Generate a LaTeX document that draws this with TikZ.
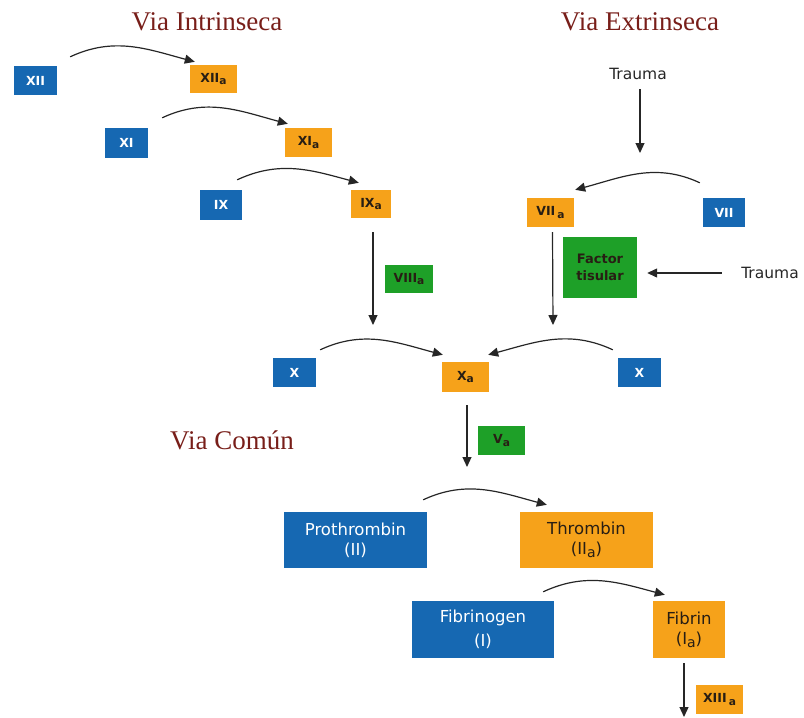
\documentclass[tikz,border=0pt]{standalone}
\usepackage{fontspec}
\setmainfont{DejaVu Sans}
\newfontfamily\titlefont{Liberation Serif}
\usetikzlibrary{arrows.meta}
\definecolor{fblue}{RGB}{22,104,178}
\definecolor{forange}{RGB}{246,162,26}
\definecolor{fgreen}{RGB}{30,160,40}
\definecolor{ftitle}{RGB}{120,30,25}
\definecolor{ftext}{RGB}{40,30,20}
\newcommand{\lowa}{\raisebox{-0.35ex}{\scalebox{0.85}{a}}}
\begin{document}
\begin{tikzpicture}[x=1pt,y=-1pt,
  box/.style={rectangle, inner sep=0pt, align=center, font=\fontsize{12.5}{15}\selectfont\bfseries},
  inact/.style={box, fill=fblue, text=white},
  act/.style={box, fill=forange, text=ftext},
  cof/.style={box, fill=fgreen, text=ftext},
  bigbox/.style={font=\fontsize{16.5}{20}\selectfont},
  titletext/.style={font=\titlefont\fontsize{27}{30}\selectfont, text=ftitle},
  plain/.style={font=\fontsize{15.5}{18}\selectfont, text=black!85},
  arr/.style={-{Triangle[length=10pt,width=9pt]}, line width=1.2pt, black!85},
]
\useasboundingbox (0,0) rectangle (804,718);

% titles
\node[titletext] (tint) at (207,22) {Via Intrinseca};
\node[titletext] (text) at (640,22) {Via Extrinseca};
\node[titletext] (tcom) at (232,440) {Via Común};

% intrinsic pathway
\node[inact, minimum width=43, minimum height=29] (xii) at (35.5,80.5) {XII};
\node[act, minimum width=47, minimum height=28] (xiia) at (213.5,79) {XII\lowa};
\node[inact, minimum width=43, minimum height=30] (xi) at (126.5,143) {XI};
\node[act, minimum width=47, minimum height=29] (xia) at (308.5,142.5) {XI\lowa};
\node[inact, minimum width=42, minimum height=30] (ix) at (221,205) {IX};
\node[act, minimum width=40, minimum height=28] (ixa) at (371,204) {IX\lowa};
\node[cof, minimum width=48, minimum height=28] (viiia) at (409,279) {VIII\lowa};

% extrinsic pathway
\node[plain] (trauma1) at (638,74) {Trauma};
\node[act, minimum width=47, minimum height=29] (viia) at (550.5,212.5) {VII\,\lowa};
\node[inact, minimum width=42, minimum height=29] (vii) at (724,212.5) {VII};
\node[cof, font=\fontsize{13}{17}\selectfont\bfseries, minimum width=74, minimum height=61] (ft) at (600,267.5) {Factor\\tisular};
\node[plain] (trauma2) at (770,273) {Trauma};

% common pathway
\node[inact, minimum width=43, minimum height=29] (xl) at (294.5,372.5) {X};
\node[act, minimum width=47, minimum height=30] (xa) at (465.5,377) {X\lowa};
\node[inact, minimum width=43, minimum height=29] (xr) at (639.5,372.5) {X};
\node[cof, minimum width=47, minimum height=29] (va) at (501.5,440.5) {V\lowa};
\node[inact, bigbox, minimum width=143, minimum height=56] (proth) at (355.5,540) {Prothrombin\\(II)};
\node[act, bigbox, minimum width=133, minimum height=56] (thromb) at (586.5,540) {Thrombin\\(II\lowa)};
\node[inact, bigbox, minimum width=142, minimum height=57] (fibgen) at (483,629.5) {Fibrinogen\\[4pt](I)};
\node[act, bigbox, minimum width=72, minimum height=57] (fibrin) at (689,629.5) {Fibrin\\(I\lowa)};
\node[act, minimum width=47, minimum height=29] (xiiia) at (719.5,699.5) {XIII\,\lowa};

% free ends
\coordinate (ixaend) at (373,325);
\coordinate (traumaend) at (640,153);
\coordinate (viiaend) at (553,325);
\coordinate (xaend) at (467,467);
\coordinate (fibend) at (684,717);

% curved conversion arrows
\draw[arr] ([shift={(13,-9)}]xii.north east) to[out=25,in=165] ([shift={(5,-3)}]xiia.north west);
\draw[arr] ([shift={(14,-10)}]xi.north east) to[out=25,in=165] ([shift={(3,-4)}]xia.north west);
\draw[arr] ([shift={(-5,-10)}]ix.north east) to[out=25,in=165] ([shift={(8,-7)}]ixa.north west);
\draw[arr] ([shift={(-3,-15)}]vii.north west) to[out=155,in=15] ([shift={(1,-8)}]viia.north east);
\draw[arr] ([shift={(4,-8)}]xl.north east) to[out=25,in=165] ([shift={(1,-7)}]xa.north west);
\draw[arr] ([shift={(-5,-8)}]xr.north west) to[out=155,in=15] ([shift={(-1,-7)}]xa.north east);
\draw[arr] ([shift={(-4,-12)}]proth.north east) to[out=25,in=165] ([shift={(27,-7)}]thromb.north west);
\draw[arr] ([shift={(-11,-9)}]fibgen.north east) to[out=25,in=165] ([shift={(12,-6)}]fibrin.north west);

% straight arrows
\draw[arr] ([shift={(2,14)}]ixa.south) -- (ixaend);
\draw[arr] ([yshift=-6]trauma1.south -| traumaend) -- (traumaend);
\draw[arr] ([xshift=-16]trauma2.west) -- ([xshift=10]ft.east |- trauma2.west);
\draw[arr] ([shift={(2,5)}]viia.south) -- (viiaend);
\draw[arr] ([shift={(1.5,13)}]xa.south) -- (xaend);
\draw[arr] ([shift={(-5,5)}]fibrin.south) -- (fibend);
\end{tikzpicture}
\end{document}
